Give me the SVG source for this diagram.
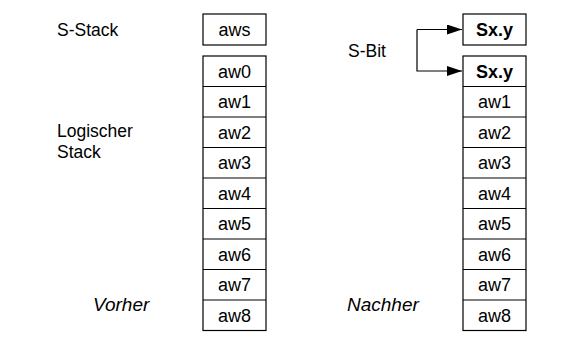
<svg xmlns="http://www.w3.org/2000/svg" width="579" height="338" viewBox="0 0 579 338">
<style>
text{font-family:"Liberation Sans",Arial,sans-serif;font-size:18px;fill:#000}
.l{font-size:17.5px}
.c{text-anchor:middle}
.b{font-weight:bold}
.i{font-style:italic;font-size:19px}
rect{fill:#fff;stroke:#000;stroke-width:1.2}
line,path.w{stroke:#000;stroke-width:1.2;fill:none}
</style>
<defs>
<marker id="ah" markerWidth="15" markerHeight="10" refX="15" refY="5" orient="auto" markerUnits="userSpaceOnUse">
<path d="M0,0 L15,5 L0,10 Z" fill="#000"/>
</marker>
</defs>
<g id="labels">
<text class="l" x="57" y="36">S-Stack</text>
<text class="l" x="348" y="57">S-Bit</text>
<text class="l" x="57" y="137">Logischer</text>
<text class="l" x="57" y="158">Stack</text>
<text class="i" x="93" y="311">Vorher</text>
<text class="i" x="347" y="311">Nachher</text>
</g>
<g id="aws"><rect x="203" y="14" width="63" height="31"/><text class="c" x="234.5" y="36">aws</text></g>
<g id="left-stack">
<rect x="203" y="56" width="63" height="274.5"/>
<line x1="203" y1="86.5" x2="266" y2="86.5"/>
<line x1="203" y1="117" x2="266" y2="117"/>
<line x1="203" y1="147.5" x2="266" y2="147.5"/>
<line x1="203" y1="178" x2="266" y2="178"/>
<line x1="203" y1="208.5" x2="266" y2="208.5"/>
<line x1="203" y1="239" x2="266" y2="239"/>
<line x1="203" y1="269.5" x2="266" y2="269.5"/>
<line x1="203" y1="300" x2="266" y2="300"/>
<text class="c" x="234.5" y="77.5">aw0</text>
<text class="c" x="234.5" y="108">aw1</text>
<text class="c" x="234.5" y="138.5">aw2</text>
<text class="c" x="234.5" y="169">aw3</text>
<text class="c" x="234.5" y="199.5">aw4</text>
<text class="c" x="234.5" y="230">aw5</text>
<text class="c" x="234.5" y="260.5">aw6</text>
<text class="c" x="234.5" y="291">aw7</text>
<text class="c" x="234.5" y="321.5">aw8</text>
</g>
<g id="sxy-top"><rect x="463" y="14" width="63" height="31"/><text class="c b" x="494.5" y="36">Sx.y</text></g>
<g id="right-stack">
<rect x="463" y="56" width="63" height="274.5"/>
<line x1="463" y1="86.5" x2="526" y2="86.5"/>
<line x1="463" y1="117" x2="526" y2="117"/>
<line x1="463" y1="147.5" x2="526" y2="147.5"/>
<line x1="463" y1="178" x2="526" y2="178"/>
<line x1="463" y1="208.5" x2="526" y2="208.5"/>
<line x1="463" y1="239" x2="526" y2="239"/>
<line x1="463" y1="269.5" x2="526" y2="269.5"/>
<line x1="463" y1="300" x2="526" y2="300"/>
<text class="c b" x="494.5" y="77.5">Sx.y</text>
<text class="c" x="494.5" y="108">aw1</text>
<text class="c" x="494.5" y="138.5">aw2</text>
<text class="c" x="494.5" y="169">aw3</text>
<text class="c" x="494.5" y="199.5">aw4</text>
<text class="c" x="494.5" y="230">aw5</text>
<text class="c" x="494.5" y="260.5">aw6</text>
<text class="c" x="494.5" y="291">aw7</text>
<text class="c" x="494.5" y="321.5">aw8</text>
</g>
<g id="connectors">
<path class="w" d="M417,29.5 H462" marker-end="url(#ah)"/>
<path class="w" d="M417,29.5 V71 H462" marker-end="url(#ah)"/>
</g>
</svg>
